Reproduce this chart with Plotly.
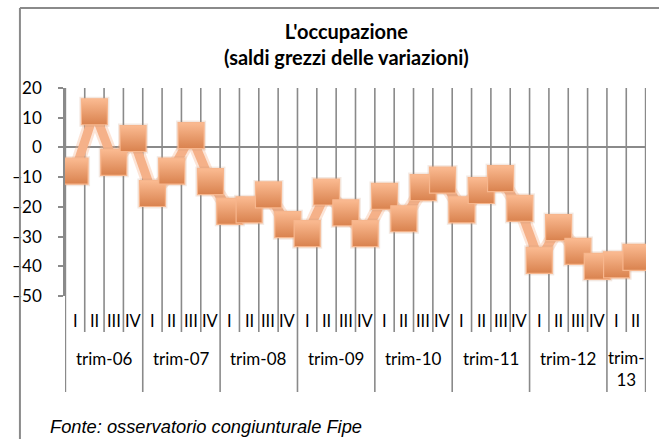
import plotly.graph_objects as go

# ---- data ----
years = ["trim-06", "trim-07", "trim-08", "trim-09", "trim-10", "trim-11", "trim-12", "trim-<br>13"]
quarters_per_year = [4, 4, 4, 4, 4, 4, 4, 2]
quarter_names = ["I", "II", "III", "IV"]
values = [-8, 12, -5, 3,
          -15.5, -8, 4, -11.5,
          -21.5, -21, -16, -26,
          -29, -15, -22, -29,
          -16.5, -24, -13.5, -11,
          -21, -14.5, -10.5, -20.5,
          -38, -27, -35, -40,
          -39.5, -37]
y_ticks = [20, 10, 0, -10, -20, -30, -40, -50]
title_text = "L'occupazione<br>(saldi grezzi delle variazioni)"
source_text = "Fonte: osservatorio congiunturale Fipe"

# build category list
quarter_labels = []
year_start = []
idx = 0
for n in quarters_per_year:
    year_start.append(idx)
    quarter_labels += quarter_names[:n]
    idx += n
n_cat = len(quarter_labels)
x = list(range(n_cat))

GRID = "#8a8a8a"
FONT = "Lato"
W, H = 659, 439
ML, MR, MT, MB = 53, 13, 88, 143
PH = H - MT - MB


def py(px):
    # page pixel y -> paper y
    return (H - MB - px) / PH


def pxx(px):
    return (px - ML) / (W - ML - MR)


fig = go.Figure()
fig.add_trace(go.Scatter(
    x=x, y=values, mode="lines",
    line=dict(color="rgba(245,177,137,0.35)", width=14),
    hoverinfo="skip", showlegend=False))
fig.add_trace(go.Scatter(
    x=x, y=values, mode="lines",
    line=dict(color="#F5B189", width=9),
    hoverinfo="skip", showlegend=False))
fig.add_trace(go.Scatter(
    x=x, y=values, mode="markers",
    marker=dict(symbol="square", size=30, color="rgba(200,150,120,0.22)",
                line=dict(width=0)),
    hoverinfo="skip", showlegend=False))
fig.add_trace(go.Scatter(
    x=x, y=values, mode="markers",
    marker=dict(symbol="square", size=26, color="#FBBB92",
                gradient=dict(type="vertical", color="#D9824E"),
                line=dict(color="#F7B68D", width=1.2)),
    showlegend=False))

shapes = []
year_bounds = set([s - 0.5 for s in year_start] + [n_cat - 0.5])
for b in [i - 0.5 for i in range(n_cat + 1)]:
    if b in year_bounds:
        y0 = py(392)
    else:
        y0 = py(332)
    shapes.append(dict(type="line", xref="x", yref="paper", x0=b, x1=b,
                       y0=y0, y1=1, line=dict(color=GRID, width=1.6), layer="below"))
# chart frame (top and left)
shapes.append(dict(type="line", xref="paper", yref="paper", x0=pxx(7), x1=pxx(700),
                   y0=py(8), y1=py(8), line=dict(color=GRID, width=2)))
shapes.append(dict(type="line", xref="paper", yref="paper", x0=pxx(7), x1=pxx(7),
                   y0=py(500), y1=py(8), line=dict(color=GRID, width=2)))

annotations = []
for i, q in enumerate(quarter_labels):
    annotations.append(dict(x=i, y=py(321), xref="x", yref="paper", text=q,
                            showarrow=False, xanchor="center", yanchor="middle",
                            font=dict(family=FONT, size=16.5, color="#000")))
for s, n, yl in zip(year_start, quarters_per_year, years):
    cy = py(358) if "<br>" not in yl else py(368)
    annotations.append(dict(x=s + (n - 1) / 2, y=cy, xref="x", yref="paper", text=yl,
                            showarrow=False, xanchor="center", yanchor="middle",
                            font=dict(family=FONT, size=17, color="#000")))
annotations.append(dict(x=pxx(36), y=py(426), xref="paper", yref="paper",
                        text="<i>" + source_text + "</i>", showarrow=False,
                        xanchor="left", yanchor="middle",
                        font=dict(family="Liberation Sans", size=18.3, color="#000")))
annotations.append(dict(x=pxx(340), y=py(43.5), xref="paper", yref="paper",
                        text="<b>" + title_text + "</b>", showarrow=False,
                        xanchor="center", yanchor="middle",
                        font=dict(family=FONT, size=20, color="#000")))

fig.update_layout(
    width=W, height=H,
    margin=dict(l=ML, r=MR, t=MT, b=MB, pad=0),
    paper_bgcolor="white", plot_bgcolor="white",
    xaxis=dict(range=[-0.52, n_cat - 0.48], showgrid=False, zeroline=False,
               showticklabels=False, ticks="", showline=False, fixedrange=True),
    yaxis=dict(range=[-50, 20], tickvals=y_ticks, showgrid=False,
               zeroline=True, zerolinecolor=GRID, zerolinewidth=1.6,
               showline=True, linecolor=GRID, linewidth=1.6,
               ticks="outside", ticklen=5, tickwidth=1.5, tickcolor=GRID,
               ticklabelstandoff=13,
               tickfont=dict(family=FONT, size=17, color="#000"), fixedrange=True),
    shapes=shapes, annotations=annotations,
    showlegend=False,
)

fig.write_html("out.html", config={"displayModeBar": False},
               post_script="document.body.style.margin='0';document.body.style.overflow='hidden';")
